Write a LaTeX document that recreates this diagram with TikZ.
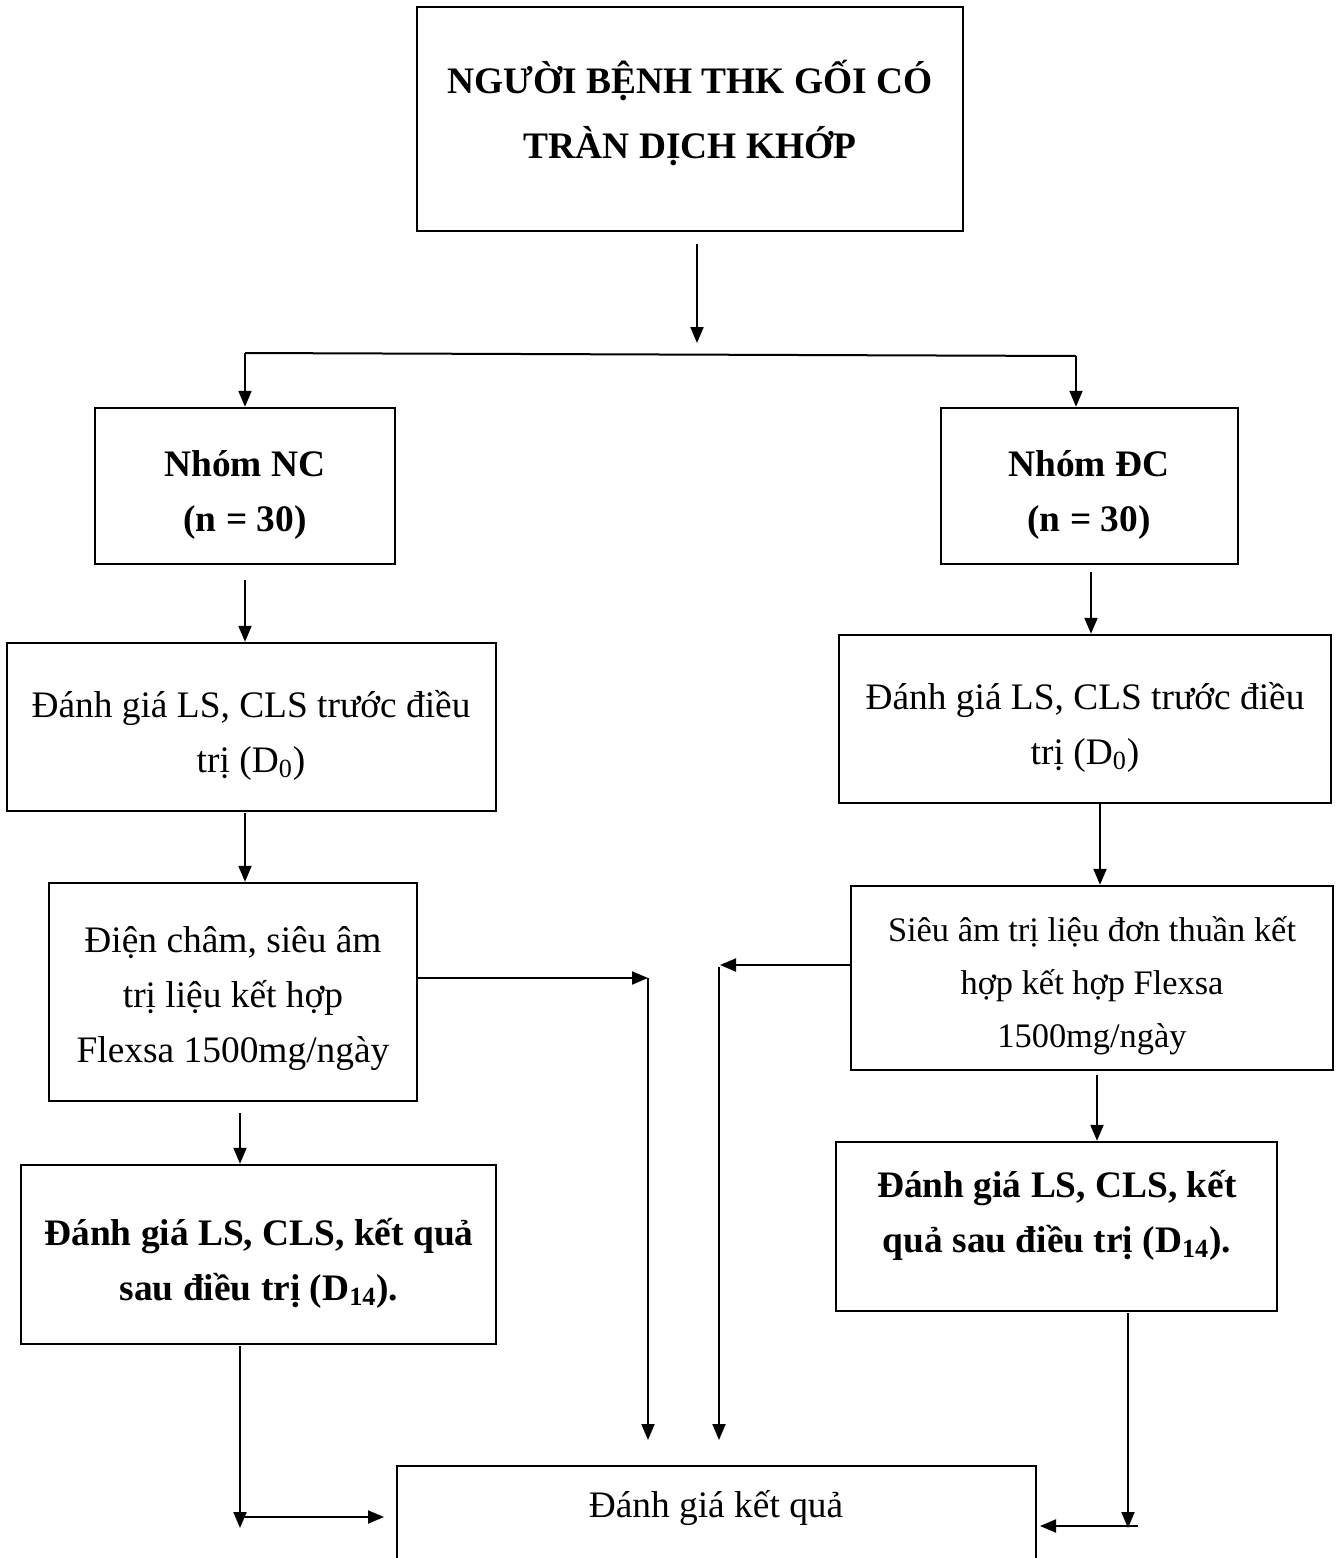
\documentclass[tikz,border=0pt]{standalone}
\usepackage{fontspec}
\setmainfont{Liberation Serif}
\usetikzlibrary{arrows.meta}
\begin{document}
\begin{tikzpicture}[x=0.5pt,y=-0.5pt,
 box/.style={draw, line width=1.2pt, inner sep=0pt},
 txt/.style={align=center, inner sep=0pt, font=\fontsize{18.7}{27.5}\selectfont},
 btxt/.style={txt, font=\fontsize{18.7}{27.5}\selectfont\bfseries},
 arr/.style={line width=1pt, -{Triangle[length=8pt,width=6.5pt]}},
 ln/.style={line width=1pt}]
\clip (0,0) rectangle (1343,1558);
\fill[white] (0,0) rectangle (1343,1558);
% boxes
\node[box, minimum width=273pt, minimum height=112pt] (top) at (690,119) {};
\node[box, minimum width=150pt, minimum height=78pt] (nc) at (245,486) {};
\node[box, minimum width=148.5pt, minimum height=78pt] (dc) at (1089.5,486) {};
\node[box, minimum width=244.5pt, minimum height=84pt] (l1) at (251.5,727) {};
\node[box, minimum width=246pt, minimum height=84pt] (r1) at (1085,719) {};
\node[box, minimum width=184pt, minimum height=109pt] (l2) at (233,992) {};
\node[box, minimum width=241pt, minimum height=92pt] (r2) at (1092,978) {};
\node[box, minimum width=237.5pt, minimum height=89.5pt] (l3) at (258.5,1254.5) {};
\node[box, minimum width=220.5pt, minimum height=84.5pt] (r3) at (1056.5,1226.5) {};
\node[box, minimum width=319.5pt, minimum height=77pt] (bot) at (716.5,1543) {};
% texts
\node[btxt, font=\fontsize{18.7}{32.5}\selectfont\bfseries] (ttop) at (690,113) {NGƯỜI BỆNH THK GỐI CÓ\\TRÀN DỊCH KHỚP};
\node[btxt] (tnc) at (245,495) {Nhóm NC\\(n = 30)};
\node[btxt] (tdc) at (1089,495) {Nhóm ĐC\\(n = 30)};
\node[txt] (tl1) at (251,735) {Đánh giá LS, CLS trước điều\\trị (D\textsubscript{0})};
\node[txt] (tr1) at (1085,727) {Đánh giá LS, CLS trước điều\\trị (D\textsubscript{0})};
\node[txt] (tl2) at (233,999) {Điện châm, siêu âm\\trị liệu kết hợp\\Flexsa 1500mg/ngày};
\node[txt, font=\fontsize{17.2}{26.5}\selectfont] (tr2) at (1092,986) {Siêu âm trị liệu đơn thuần kết\\hợp kết hợp Flexsa\\1500mg/ngày};
\node[btxt] (tl3) at (259,1263) {Đánh giá LS, CLS, kết quả\\sau điều trị (D\textsubscript{14}).};
\node[btxt] (tr3) at (1057,1215) {Đánh giá LS, CLS, kết\\quả sau điều trị (D\textsubscript{14}).};
\node[txt] (tbot) at (716,1508) {Đánh giá kết quả};
% connectors
\coordinate (a0) at (697,244);
\coordinate (a1) at (697,343);
\coordinate (jL) at (245,353);
\coordinate (jR) at (1076,356);
\draw[arr] (a0) -- (a1);
\draw[ln] (jL) -- (jR);
\draw[arr] (jL) -- (jL |- nc.north);
\draw[arr] (jR) -- (jR |- dc.north);
\coordinate (b1) at (245,580);
\draw[arr] (b1) -- (b1 |- l1.north);
\coordinate (b2) at (1091,572);
\draw[arr] (b2) -- (b2 |- r1.north);
\coordinate (b3) at (245,813);
\draw[arr] (b3) -- (b3 |- l2.north);
\coordinate (b4) at (1100,803);
\draw[arr] (b4) -- (b4 |- r2.north);
\coordinate (b5) at (240,1113);
\draw[arr] (b5) -- (b5 |- l3.north);
\coordinate (b6) at (1097,1075);
\draw[arr] (b6) -- (b6 |- r3.north);
\coordinate (cL) at (648,978);
\coordinate (dL) at (648,1440);
\draw[arr] (cL -| l2.east) -- (cL);
\draw[arr] (cL) -- (dL);
\coordinate (cR) at (720,965);
\coordinate (cR2) at (719,967);
\coordinate (dR) at (719,1440);
\draw[arr] (cR -| r2.west) -- (cR);
\draw[arr] (cR2) -- (dR);
\coordinate (eL) at (240,1346);
\coordinate (fL) at (240,1528);
\draw[arr] (eL) -- (fL);
\coordinate (gL) at (244,1517);
\coordinate (hL) at (384,1517);
\draw[arr] (gL) -- (hL);
\coordinate (eR) at (1128,1313);
\coordinate (fR) at (1128,1528);
\draw[arr] (eR) -- (fR);
\coordinate (gR) at (1138,1526);
\coordinate (hR) at (1040,1526);
\draw[arr] (gR) -- (hR);
\end{tikzpicture}
\end{document}
